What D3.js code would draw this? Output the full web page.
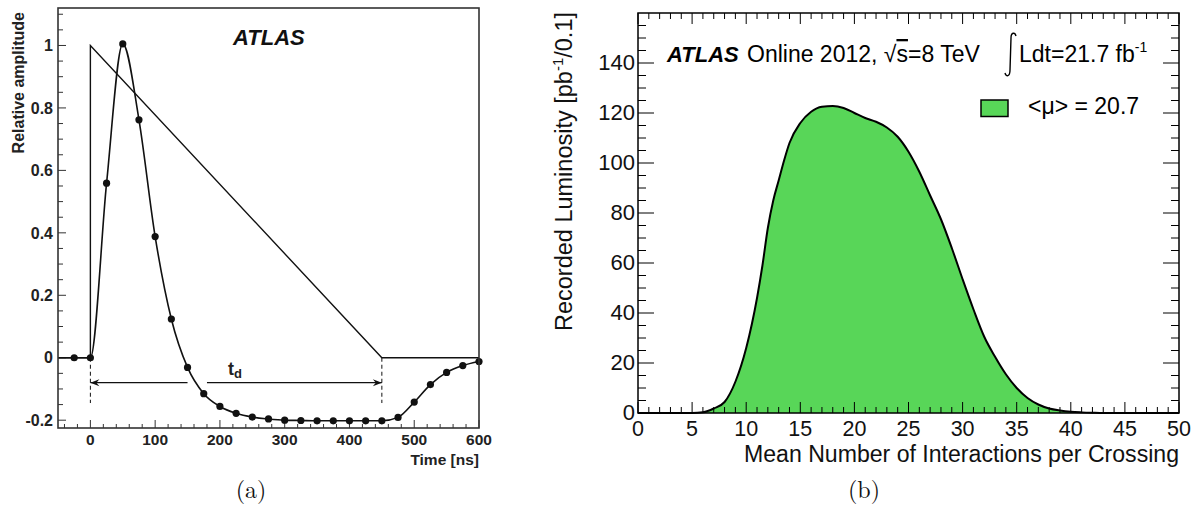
<!DOCTYPE html>
<html>
<head>
<meta charset="utf-8">
<script src="https://cdn.jsdelivr.net/npm/d3@7"></script>
<style>
  html, body { margin: 0; padding: 0; background: #fff; }
  svg { display: block; }
</style>
</head>
<body>
<svg id="chart" width="1199" height="511"></svg>
<script>
// ---------- Panel (a) data ----------
const pulseTime = [-50, 0, 0, 450, 600];
const pulseAmp  = [0, 0, 1, 0, 0];
const sampleTime = [-50, -25, 0, 25, 50, 75, 100, 125, 150, 175, 200, 225, 250, 275, 300, 325, 350, 375, 400, 425, 450, 475, 500, 525, 550, 575, 600];
const sampleAmp  = [0, 0, 0, 0.559, 1.005, 0.762, 0.388, 0.124, -0.031, -0.115, -0.156, -0.178, -0.19, -0.196, -0.2, -0.201, -0.202, -0.202, -0.202, -0.202, -0.202, -0.191, -0.142, -0.086, -0.047, -0.025, -0.012];
const aXTicks = [0, 100, 200, 300, 400, 500, 600];
const aYTicks = [-0.2, 0, 0.2, 0.4, 0.6, 0.8, 1];
const aYLabels = ["-0.2", "0", "0.2", "0.4", "0.6", "0.8", "1"];

// ---------- Panel (b) data ----------
const muValues = [0,1,2,3,4,5,6,7,8,9,10,11,11.5,12,12.5,13,13.5,14,15,16,17,18,19,20,21,22,23,24,25,26,27,28,29,30,31,32,33,34,35,36,37,38,39,40,41,42,43,44,45,46,47,48,49,50];
const lumiValues = [0,0,0,0,0,0,0.3,1.8,4.4,12.5,26,46,59,74,85,93,101,108,116,120.5,122.5,122.8,122,120,118,116.5,114.2,110.5,104.5,96.5,87,77.5,66,53.5,41.5,30.5,22.5,15.5,10,6,3.4,1.8,1.0,0.5,0.25,0.1,0,0,0,0,0,0,0,0];
const bXTicks = [0, 5, 10, 15, 20, 25, 30, 35, 40, 45, 50];
const bYTicks = [0, 20, 40, 60, 80, 100, 120, 140];

const svg = d3.select("#chart");
const ink = "#111";

// ================= Panel (a) =================
const ax = d3.scaleLinear().domain([-50, 600]).range([58, 479]);
const ay = d3.scaleLinear().domain([-0.225, 1.12]).range([428, 8]);
const A = svg.append("g").attr("font-family", "'Liberation Sans', Arial, sans-serif");

const aXMinor = d3.range(-40, 600, 20).filter(v => v % 100 !== 0);
A.selectAll(".axm").data(aXMinor).join("line")
  .attr("x1", d => ax(d)).attr("x2", d => ax(d))
  .attr("y1", 428).attr("y2", 424).attr("stroke", "#333").attr("stroke-width", 1);
A.selectAll(".axM").data(aXTicks).join("line")
  .attr("x1", d => ax(d)).attr("x2", d => ax(d))
  .attr("y1", 428).attr("y2", 420).attr("stroke", "#333").attr("stroke-width", 1);
const aYMinor = d3.range(-0.15, 1.12, 0.05).map(v => +v.toFixed(2)).filter(v => Math.abs(Math.round(v / 0.2) * 0.2 - v) > 1e-6);
A.selectAll(".aym").data(aYMinor).join("line")
  .attr("x1", 58).attr("x2", 63)
  .attr("y1", d => ay(d)).attr("y2", d => ay(d)).attr("stroke", "#333").attr("stroke-width", 1);
A.selectAll(".ayM").data(aYTicks).join("line")
  .attr("x1", 58).attr("x2", 66)
  .attr("y1", d => ay(d)).attr("y2", d => ay(d)).attr("stroke", "#333").attr("stroke-width", 1);

A.selectAll(".axl").data(aXTicks).join("text")
  .attr("x", d => ax(d)).attr("y", 445)
  .attr("text-anchor", "middle").attr("font-weight", "bold").attr("font-size", 15.5)
  .attr("fill", "#222").text(d => d);
A.selectAll(".ayl").data(aYTicks).join("text")
  .attr("x", 53).attr("y", d => ay(d)).attr("dy", "0.36em")
  .attr("text-anchor", "end").attr("font-weight", "bold").attr("font-size", 16)
  .attr("fill", "#222").text((d, i) => aYLabels[i]);

A.append("text").attr("x", 479).attr("y", 465).attr("text-anchor", "end")
  .attr("font-weight", "bold").attr("font-size", 15.5).attr("fill", "#222").text("Time [ns]");
A.append("text").attr("transform", "translate(24,12) rotate(-90)").attr("text-anchor", "end")
  .attr("font-weight", "bold").attr("font-size", 16).attr("fill", "#222").text("Relative amplitude");

A.append("text").attr("x", 233).attr("y", 45).attr("font-weight", "bold").attr("font-style", "italic")
  .attr("font-size", 22).attr("fill", "#111").text("ATLAS");

const pulseLine = d3.line().x((d, i) => ax(pulseTime[i])).y((d, i) => ay(pulseAmp[i]));
A.append("path").attr("d", pulseLine(pulseTime)).attr("fill", "none").attr("stroke", ink).attr("stroke-width", 1.4);

const sigLine = d3.line().curve(d3.curveMonotoneX).x((d, i) => ax(sampleTime[i])).y((d, i) => ay(sampleAmp[i]));
A.append("path").attr("d", sigLine(sampleTime)).attr("fill", "none").attr("stroke", ink).attr("stroke-width", 1.6);
A.selectAll(".dot").data(sampleTime.map((t, i) => [t, sampleAmp[i]]).filter(d => d[0] > -50)).join("circle")
  .attr("cx", d => ax(d[0])).attr("cy", d => ay(d[1])).attr("r", 3.6).attr("fill", ink);

// t_d annotation
const tdY = -0.08;
[0, 450].forEach(t => {
  A.append("line").attr("x1", ax(t)).attr("x2", ax(t)).attr("y1", ay(0)).attr("y2", ay(-0.145))
    .attr("stroke", ink).attr("stroke-width", 1).attr("stroke-dasharray", "4,3");
});
A.append("line").attr("x1", ax(0)).attr("x2", ax(150)).attr("y1", ay(tdY)).attr("y2", ay(tdY))
  .attr("stroke", ink).attr("stroke-width", 1.2);
A.append("line").attr("x1", ax(180)).attr("x2", ax(450)).attr("y1", ay(tdY)).attr("y2", ay(tdY))
  .attr("stroke", ink).attr("stroke-width", 1.2);
const hy = ay(tdY);
A.append("path").attr("d", `M${ax(0)},${hy} L${ax(0) + 9},${hy - 3.5} L${ax(0) + 6},${hy} L${ax(0) + 9},${hy + 3.5} Z`).attr("fill", ink);
A.append("path").attr("d", `M${ax(450)},${hy} L${ax(450) - 9},${hy - 3.5} L${ax(450) - 6},${hy} L${ax(450) - 9},${hy + 3.5} Z`).attr("fill", ink);
const td = A.append("text").attr("x", 228).attr("y", 375).attr("font-weight", "bold").attr("font-size", 18).attr("fill", "#222");
td.append("tspan").text("t");
td.append("tspan").attr("font-size", 13).attr("dy", 3).text("d");

A.append("rect").attr("x", 58).attr("y", 8).attr("width", 479 - 58).attr("height", 428 - 8)
  .attr("fill", "none").attr("stroke", "#333").attr("stroke-width", 1.6);

svg.append("text").attr("x", 251).attr("y", 498).attr("text-anchor", "middle")
  .attr("font-family", "'Latin Modern Roman','Liberation Serif','DejaVu Serif',serif").attr("font-size", 24).attr("fill", "#111").text("(a)");

// ================= Panel (b) =================
const bx = d3.scaleLinear().domain([0, 50]).range([638, 1179]);
const by = d3.scaleLinear().domain([0, 160]).range([413, 13]);
const B = svg.append("g").attr("font-family", "'Liberation Sans', Arial, Helvetica, sans-serif");
const green = "#58d658";

const area = d3.area().curve(d3.curveMonotoneX)
  .x((d, i) => bx(muValues[i])).y0(by(0)).y1((d, i) => by(lumiValues[i]));
B.append("path").attr("d", area(muValues)).attr("fill", green);
const outline = d3.line().curve(d3.curveMonotoneX)
  .x((d, i) => bx(muValues[i])).y((d, i) => by(lumiValues[i]));
B.append("path").attr("d", outline(muValues)).attr("fill", "none").attr("stroke", "#000").attr("stroke-width", 2);

const bXMinor = d3.range(0, 51, 1).filter(v => v % 5 !== 0);
const bYMinor = d3.range(0, 161, 5).filter(v => v % 20 !== 0);
function ticksX(vals, len) {
  B.selectAll(null).data(vals).join("line")
    .attr("x1", d => bx(d)).attr("x2", d => bx(d)).attr("y1", 413).attr("y2", 413 - len)
    .attr("stroke", "#000").attr("stroke-width", 1);
  B.selectAll(null).data(vals).join("line")
    .attr("x1", d => bx(d)).attr("x2", d => bx(d)).attr("y1", 13).attr("y2", 13 + len)
    .attr("stroke", "#000").attr("stroke-width", 1);
}
function ticksY(vals, len) {
  B.selectAll(null).data(vals).join("line")
    .attr("y1", d => by(d)).attr("y2", d => by(d)).attr("x1", 638).attr("x2", 638 + len)
    .attr("stroke", "#000").attr("stroke-width", 1);
  B.selectAll(null).data(vals).join("line")
    .attr("y1", d => by(d)).attr("y2", d => by(d)).attr("x1", 1179).attr("x2", 1179 - len)
    .attr("stroke", "#000").attr("stroke-width", 1);
}
ticksX(bXMinor, 6); ticksX(bXTicks, 11);
ticksY(bYMinor, 8); ticksY(bYTicks, 16);

B.append("rect").attr("x", 638).attr("y", 13).attr("width", 1179 - 638).attr("height", 413 - 13)
  .attr("fill", "none").attr("stroke", "#000").attr("stroke-width", 1.5);

B.selectAll(".bxl").data(bXTicks).join("text")
  .attr("x", d => bx(d)).attr("y", 435.5).attr("text-anchor", "middle")
  .attr("font-size", 21.5).attr("fill", "#111").text(d => d);
B.selectAll(".byl").data(bYTicks).join("text")
  .attr("x", 635).attr("y", d => by(d)).attr("dy", "0.34em").attr("text-anchor", "end")
  .attr("font-size", 22).attr("fill", "#111").text(d => d);

B.append("text").attr("x", 1179).attr("y", 462).attr("text-anchor", "end")
  .attr("font-size", 23).attr("fill", "#111")
  .attr("textLength", 435).attr("lengthAdjust", "spacingAndGlyphs")
  .text("Mean Number of Interactions per Crossing");
const yt = B.append("text").attr("transform", "translate(572,12) rotate(-90)").attr("text-anchor", "end")
  .attr("font-size", 23.5).attr("fill", "#111");
yt.append("tspan").text("Recorded Luminosity [pb");
yt.append("tspan").attr("font-size", 15).attr("dy", -9).text("-1");
yt.append("tspan").attr("dy", 9).text("/0.1]");

B.append("text").attr("x", 667).attr("y", 62).attr("font-size", 22).attr("font-weight", "bold")
  .attr("font-style", "italic").attr("fill", "#000").text("ATLAS");
const onl = B.append("text").attr("x", 747).attr("y", 62).attr("font-size", 23).attr("fill", "#000");
onl.append("tspan").text("Online 2012, √");
onl.append("tspan").attr("text-decoration", "overline").text("s");
onl.append("tspan").text("=8 TeV");

// integral sign (thin)
B.append("path")
  .attr("d", "M1016,36 C1015,32 1011,32 1011,38 L1010,70 C1010,77 1006,77 1005,73")
  .attr("fill", "none").attr("stroke", "#000").attr("stroke-width", 1.4);
const lum = B.append("text").attr("x", 1019).attr("y", 62).attr("font-size", 23).attr("fill", "#000");
lum.append("tspan").text("Ldt=21.7 fb");
lum.append("tspan").attr("font-size", 14).attr("dy", -10).text("-1");

B.append("rect").attr("x", 981).attr("y", 100).attr("width", 27).attr("height", 16.5)
  .attr("fill", green).attr("stroke", "#000").attr("stroke-width", 1.5);
B.append("text").attr("x", 1028).attr("y", 114).attr("font-size", 23).attr("fill", "#000").text("<μ> = 20.7");

svg.append("text").attr("x", 864).attr("y", 498).attr("text-anchor", "middle")
  .attr("font-family", "'Latin Modern Roman','Liberation Serif','DejaVu Serif',serif").attr("font-size", 24).attr("fill", "#111").text("(b)");
</script>
</body>
</html>
